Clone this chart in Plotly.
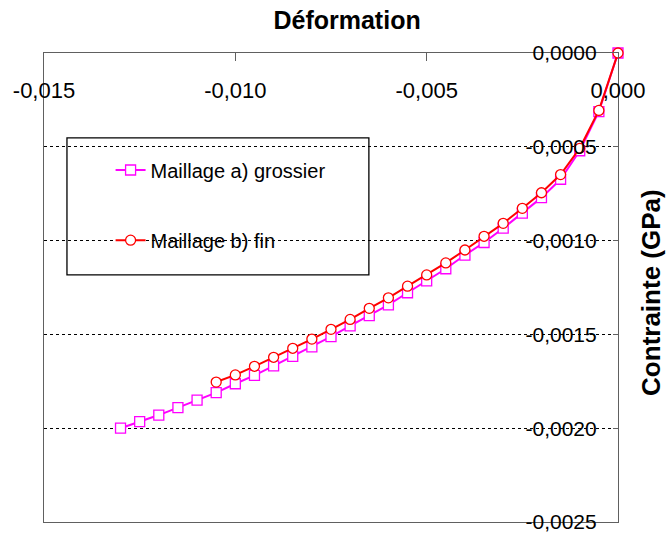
import plotly.graph_objects as go

# Déformation (x) et contrainte (y, GPa) pour les deux maillages
deformation_grossier = [-0.0130, -0.0125, -0.0120, -0.0115, -0.0110, -0.0105, -0.0100,
                        -0.0095, -0.0090, -0.0085, -0.0080, -0.0075, -0.0070, -0.0065,
                        -0.0060, -0.0055, -0.0050, -0.0045, -0.0040, -0.0035, -0.0030,
                        -0.0025, -0.0020, -0.0015, -0.0010, -0.0005, 0.0]
contrainte_grossier = [-0.002000, -0.001965, -0.001930, -0.001890, -0.001850, -0.001810,
                       -0.001763, -0.001718, -0.001668, -0.001617, -0.001567, -0.001512,
                       -0.001455, -0.001400, -0.001343, -0.001278, -0.001215, -0.001150,
                       -0.001077, -0.001010, -0.000934, -0.000854, -0.000771, -0.000673,
                       -0.000521, -0.000312, 0.0]

deformation_fin = [-0.0105, -0.0100, -0.0095, -0.0090, -0.0085, -0.0080, -0.0075,
                   -0.0070, -0.0065, -0.0060, -0.0055, -0.0050, -0.0045, -0.0040,
                   -0.0035, -0.0030, -0.0025, -0.0020, -0.0015, -0.0010, -0.0005, 0.0]
contrainte_fin = [-0.001754, -0.001716, -0.001670, -0.001622, -0.001574, -0.001525,
                  -0.001473, -0.001420, -0.001361, -0.001305, -0.001243, -0.001183,
                  -0.001119, -0.001050, -0.000977, -0.000908, -0.000828, -0.000745,
                  -0.000648, -0.000508, -0.000306, 0.0]

x_ticks = [-0.015, -0.010, -0.005, 0.0]
x_labels = ["-0,015", "-0,010", "-0,005", "0,000"]
y_ticks = [0.0, -0.0005, -0.0010, -0.0015, -0.0020, -0.0025]
y_labels = ["0,0000", "-0,0005", "-0,0010", "-0,0015", "-0,0020", "-0,0025"]

FONT = "Arial, Liberation Sans, sans-serif"
PAD = "\u00a0\u00a0\u00a0"  # écart entre étiquettes et axe vertical

fig = go.Figure()
fig.add_trace(go.Scatter(
    x=deformation_grossier, y=contrainte_grossier, mode="lines+markers",
    name="Maillage a) grossier", legend="legend", cliponaxis=False,
    line=dict(color="#FF00FF", width=2),
    marker=dict(symbol="square", size=10, color="white",
                line=dict(color="#FF00FF", width=1.3)),
))
fig.add_trace(go.Scatter(
    x=deformation_fin, y=contrainte_fin, mode="lines+markers",
    name="Maillage b) fin", legend="legend2", cliponaxis=False,
    line=dict(color="#FF0000", width=2),
    marker=dict(symbol="circle", size=10, color="white",
                line=dict(color="#FF0000", width=1.3)),
))

# cadre blanc de la légende (masque le quadrillage, sous les courbes)
fig.add_shape(type="rect", xref="paper", yref="paper",
              x0=0.040, x1=0.566, y0=0.527, y1=0.819,
              line=dict(color="black", width=1.3), fillcolor="white", layer="between")

# titre de l'axe des contraintes, à droite
fig.add_annotation(text="<b>Contrainte (GPa)</b>", xref="paper", yref="paper",
                   x=1.057, y=0.49, xanchor="center", yanchor="middle",
                   textangle=-90, showarrow=False,
                   font=dict(family=FONT, size=26, color="black"))

legend_common = dict(xref="paper", yref="paper", xanchor="left", yanchor="middle",
                     bgcolor="rgba(0,0,0,0)", borderwidth=0,
                     font=dict(family=FONT, size=20, color="black"))

fig.update_layout(
    width=666, height=535,
    margin=dict(l=44, r=48, t=53, b=13, autoexpand=False),
    paper_bgcolor="white", plot_bgcolor="white",
    font=dict(family=FONT, color="black"),
    showlegend=True,
    title=dict(text="<b>Déformation</b>", xref="paper", x=0.528, xanchor="center",
               yref="container", y=0.962, yanchor="middle",
               font=dict(family=FONT, size=25, color="black")),
    legend=dict(x=0.116, y=0.7505, **legend_common),
    legend2=dict(x=0.116, y=0.601, **legend_common),
    xaxis=dict(
        side="top", range=[-0.015, 0.0], automargin=False,
        tickvals=x_ticks, ticktext=x_labels,
        ticks="inside", ticklen=8, tickcolor="#606060",
        ticklabelposition="inside", ticklabelstandoff=23,
        ticklabeloverflow="allow",
        tickfont=dict(family=FONT, size=22, color="black"),
        showgrid=False, zeroline=False,
        showline=True, linecolor="#606060", linewidth=1, mirror=True,
    ),
    yaxis=dict(
        side="right", range=[-0.0025, 0.0], automargin=False,
        tickvals=y_ticks, ticktext=[t + PAD for t in y_labels],
        ticks="inside", ticklen=5, tickcolor="#606060",
        ticklabelposition="inside",
        ticklabeloverflow="allow",
        tickfont=dict(family=FONT, size=21, color="black"),
        showgrid=True, gridcolor="black", gridwidth=1, griddash="dot",
        zeroline=False,
        showline=True, linecolor="#606060", linewidth=1, mirror=True,
    ),
)

fig.write_html("out.html")
